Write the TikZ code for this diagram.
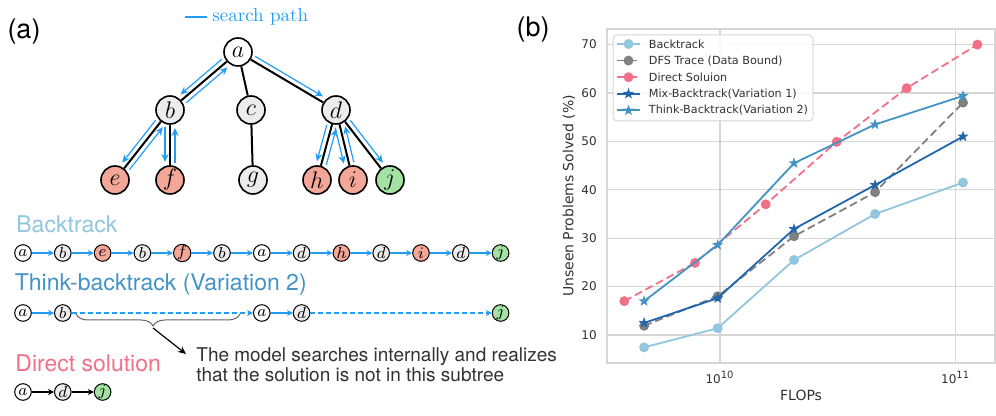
\documentclass[tikz,border=0pt]{standalone}
\usepackage{fontspec}
\usepackage{tikz}
\usetikzlibrary{arrows.meta}
\usetikzlibrary{calc}
\usetikzlibrary{decorations.pathreplacing}
\usetikzlibrary{plotmarks}
\newfontfamily\helv{TeX Gyre Heros}
\newfontfamily\dejavu{DejaVu Sans}
\definecolor{pathblue}{RGB}{33,158,243}
\definecolor{nodegray}{RGB}{236,236,236}
\definecolor{nodered}{RGB}{244,166,152}
\definecolor{nodegreen}{RGB}{163,226,163}
\definecolor{btblue}{RGB}{146,197,222}
\definecolor{thinkblue}{RGB}{67,147,195}
\definecolor{mixblue}{RGB}{33,102,172}
\definecolor{dspink}{RGB}{240,113,135}
\definecolor{dfsgray}{RGB}{128,128,128}
\definecolor{gridgray}{RGB}{214,214,214}
\definecolor{txtgray}{RGB}{50,50,50}
\pgfdeclareplotmark{fstar}{%
  \pgfpathmoveto{\pgfpointpolar{90}{\pgfplotmarksize}}%
  \pgfpathlineto{\pgfpointpolar{126}{0.4\pgfplotmarksize}}%
  \pgfpathlineto{\pgfpointpolar{162}{\pgfplotmarksize}}%
  \pgfpathlineto{\pgfpointpolar{198}{0.4\pgfplotmarksize}}%
  \pgfpathlineto{\pgfpointpolar{234}{\pgfplotmarksize}}%
  \pgfpathlineto{\pgfpointpolar{270}{0.4\pgfplotmarksize}}%
  \pgfpathlineto{\pgfpointpolar{306}{\pgfplotmarksize}}%
  \pgfpathlineto{\pgfpointpolar{342}{0.4\pgfplotmarksize}}%
  \pgfpathlineto{\pgfpointpolar{18}{\pgfplotmarksize}}%
  \pgfpathlineto{\pgfpointpolar{54}{0.4\pgfplotmarksize}}%
  \pgfpathclose
  \pgfusepathqfill}
\tikzset{tnode/.style = {circle, draw, line width=0.8pt, minimum size=14pt, inner sep=0pt,
                         font=\fontsize{12}{12}\selectfont},
         snode/.style = {circle, draw, line width=0.5pt, minimum size=8.3pt, inner sep=0pt,
                         font=\fontsize{8}{8}\selectfont},
         fa/.style = {fill=white}, fb/.style = {fill=nodegray}, fc/.style = {fill=nodegray},
         fd/.style = {fill=nodegray}, fe/.style = {fill=nodered}, ff/.style = {fill=nodered},
         fg/.style = {fill=nodegray}, fh/.style = {fill=nodered}, fi/.style = {fill=nodered},
         fj/.style = {fill=nodegreen},
         treeedge/.style = {line width=1pt},
         srch/.style = {pathblue, line width=0.6pt, -{Stealth[length=4pt, width=3.6pt]}},
         seqarr/.style = {pathblue, line width=0.6pt, -{Stealth[length=3pt, width=3pt]}},
         seqdash/.style = {seqarr, dash pattern=on 2.5pt off 1.5pt},
         lbl/.style = {inner sep=0pt, font=\helv\fontsize{11.5}{12}\selectfont},
         gridln/.style = {gridgray, line width=0.6pt},
         ticklbl/.style = {txtgray, inner sep=0pt, font=\dejavu\fontsize{6}{7}\selectfont},
         axlbl/.style = {txtgray, inner sep=0pt, font=\dejavu\fontsize{7}{8}\selectfont},
         btline/.style = {btblue, line width=0.9pt, mark=*, mark size=2pt},
         dfsline/.style = {dfsgray, line width=0.9pt, dash pattern=on 4pt off 2pt,
                           mark=*, mark size=2pt, mark options={solid}},
         dsline/.style = {dspink, line width=0.9pt, dash pattern=on 4pt off 2pt,
                          mark=*, mark size=2pt, mark options={solid}},
         mixline/.style = {mixblue, line width=0.9pt, mark=fstar, mark size=2.9pt},
         thline/.style = {thinkblue, line width=0.9pt, mark=fstar, mark size=2.9pt}}
% blue arrow beside a tree edge, #3 is the side offset
\newcommand{\searchstep}[3]{%
  \draw[srch] ($(#1)!8.5pt!(#2)!#3!90:(#2)$) -- ($(#2)!9pt!(#1)!#3!-90:(#1)$);}
\begin{document}
\begin{tikzpicture}[x=0.5pt, y=-0.5pt]
  \useasboundingbox (0,0) rectangle (996,416);
  \node[font=\helv\fontsize{13.5}{14}\selectfont] (pa) at (24,32) {(a)};
  \node[font=\helv\fontsize{13.5}{14}\selectfont] (pb) at (533,30) {(b)};

  % tree
  \coordinate (sp1) at (185,17);
  \coordinate (sp2) at (207,17);
  \draw[pathblue, line width=0.6pt] (sp1) -- (sp2);
  \node[pathblue, anchor=west, inner sep=0pt, font=\fontsize{9.5}{10}\selectfont] (splbl) at (212,17) {search path};
  \node[tnode, fa] (a) at (238,52) {$a$};
  \node[tnode, fb] (b) at (170,110) {$b$};
  \node[tnode, fc] (c) at (251,110) {$c$};
  \node[tnode, fd] (d) at (336,110) {$d$};
  \node[tnode, fe] (e) at (115,180) {$e$};
  \node[tnode, ff] (f) at (170,180) {$f$};
  \node[tnode, fg] (g) at (253,180) {$g$};
  \node[tnode, fh] (h) at (317,180) {$h$};
  \node[tnode, fi] (i) at (353,180) {$i$};
  \node[tnode, fj] (j) at (390,180) {$j$};
  \foreach \u/\v in {a/b, a/c, a/d, b/e, b/f, c/g, d/h, d/i, d/j}
    \draw[treeedge] (\u) -- (\v);
  \searchstep{a}{b}{-2.5pt}
  \searchstep{b}{a}{-2.5pt}
  \searchstep{b}{e}{-2.5pt}
  \searchstep{e}{b}{-2.5pt}
  \searchstep{b}{f}{-2.5pt}
  \searchstep{f}{b}{-2.5pt}
  \searchstep{a}{d}{2.5pt}
  \searchstep{d}{h}{-2.5pt}
  \searchstep{h}{d}{-2.5pt}
  \searchstep{d}{i}{-2.5pt}
  \searchstep{i}{d}{-2.5pt}
  \searchstep{d}{j}{2.5pt}

  % sequences
  \node[lbl, btblue, anchor=base west] (btlbl) at (16,233) {Backtrack};
  \foreach \l [count=\k] in {a,b,e,b,f,b,a,d,h,d,i,d,j}
    \node[snode, f\l] (bt\k) at ({23+39.8*(\k-1)},253) {$\l$};
  \foreach \k [remember=\k as \p (initially 1)] in {2,...,13}
    \draw[seqarr] (bt\p) -- (bt\k);

  \node[lbl, thinkblue, anchor=base west] (tklbl) at (14.5,291) {Think-backtrack (Variation 2)};
  \foreach \l/\n [count=\k] in {a/1, b/2, a/7, d/8, j/13}
    \node[snode, f\l] (tk\k) at ({23+39.8*(\n-1)},313) {$\l$};
  \draw[seqarr] (tk1) -- (tk2);
  \draw[seqdash] (tk2) -- (tk3);
  \draw[seqarr] (tk3) -- (tk4);
  \draw[seqdash] (tk4) -- (tk5);
  \coordinate (brl) at (76,314);
  \coordinate (brr) at (240,314);
  \draw[black!60, line width=0.5pt, decorate, decoration={brace, mirror, amplitude=6pt, aspect=0.47}] (brl) -- (brr);
  \coordinate (brtip) at (153,328);
  \coordinate (noteptr) at (186,354);
  \draw[line width=0.6pt, -{Stealth[length=4pt, width=3.5pt]}] (brtip) -- (noteptr);
  \node[txtgray, anchor=west, align=left, inner sep=0pt, font=\helv\fontsize{9.5}{10.2}\selectfont] (note) at (196,365)
    {The model searches internally and realizes\\that the solution is not in this subtree};

  \node[lbl, dspink, anchor=base west] (dslbl) at (15,371.5) {Direct solution};
  \foreach \l [count=\k] in {a,d,j}
    \node[snode, f\l] (ds\k) at ({23+39.8*(\k-1)},392) {$\l$};
  \draw[line width=0.6pt, -{Stealth[length=3pt, width=3pt]}] (ds1) -- (ds2);
  \draw[line width=0.6pt, -{Stealth[length=3pt, width=3pt]}] (ds2) -- (ds3);

  % plot: x = log10(FLOPs)-10, y = percent
  \begin{scope}[shift={(360pt,-191.7pt)}, x=117.85pt, y=2.42pt]
    \def\xmin{-0.479} \def\xmax{1.167} \def\ymin{4.2} \def\ymax{73.2}
    \foreach \v in {10,20,...,70} {
      \draw[gridln] (\xmin,\v) -- (\xmax,\v);
      \node[ticklbl, anchor=east, xshift=-5pt] (yt\v) at (\xmin,\v) {\v};
    }
    \foreach \e in {0,1} \draw[gridln] (\e,\ymin) -- (\e,\ymax);
    \draw[gridgray, line width=0.8pt] (\xmin,\ymin) rectangle (\xmax,\ymax);
    \node[ticklbl, anchor=base, yshift=-10pt] (xt10) at (0,\ymin) {10\textsuperscript{10}};
    \node[ticklbl, anchor=base, yshift=-10pt] (xt11) at (1,\ymin) {10\textsuperscript{11}};
    \node[axlbl, anchor=base, yshift=-18.5pt] (xlbl) at (0.344,\ymin) {FLOPs};
    \node[axlbl, rotate=90] (ylbl) at (-0.641,38.7) {Unseen Problems Solved (\%)};
    \draw[btline] plot coordinates {(-0.322,7.45) (-0.010,11.4) (0.314,25.5) (0.658,35.0) (1.031,41.5)};
    \draw[dfsline] plot coordinates {(-0.322,11.9) (-0.010,18.0) (0.314,30.4) (0.658,39.5) (1.031,58.0)};
    \draw[dsline] plot coordinates {(-0.406,17.0) (-0.106,24.9) (0.194,37.0) (0.495,49.9) (0.792,61.0) (1.092,70.0)};
    \draw[mixline] plot coordinates {(-0.322,12.5) (-0.010,17.6) (0.314,31.9) (0.658,41.0) (1.031,51.0)};
    \draw[thline] plot coordinates {(-0.322,17.0) (-0.010,28.6) (0.314,45.5) (0.658,53.5) (1.031,59.4)};
  \end{scope}

  % legend
  \draw[gridgray, fill=white, fill opacity=0.85, rounded corners=2pt, line width=0.5pt] (613,35) rectangle (813,121);
  \foreach \st/\tx [count=\k] in {btline/Backtrack, dfsline/DFS Trace (Data Bound), dsline/Direct Soluion,
                                  mixline/Mix-Backtrack(Variation 1), thline/Think-Backtrack(Variation 2)} {
    \draw[\st, mark=none] (617,{44+16.6*(\k-1)}) -- (640,{44+16.6*(\k-1)});
    \draw[\st] plot coordinates {(628.5,{44+16.6*(\k-1)})};
    \node[ticklbl, anchor=west, font=\dejavu\fontsize{5.6}{6}\selectfont] (lg\k) at (648.5,{44+16.6*(\k-1)}) {\tx};
  }
\end{tikzpicture}
\end{document}
